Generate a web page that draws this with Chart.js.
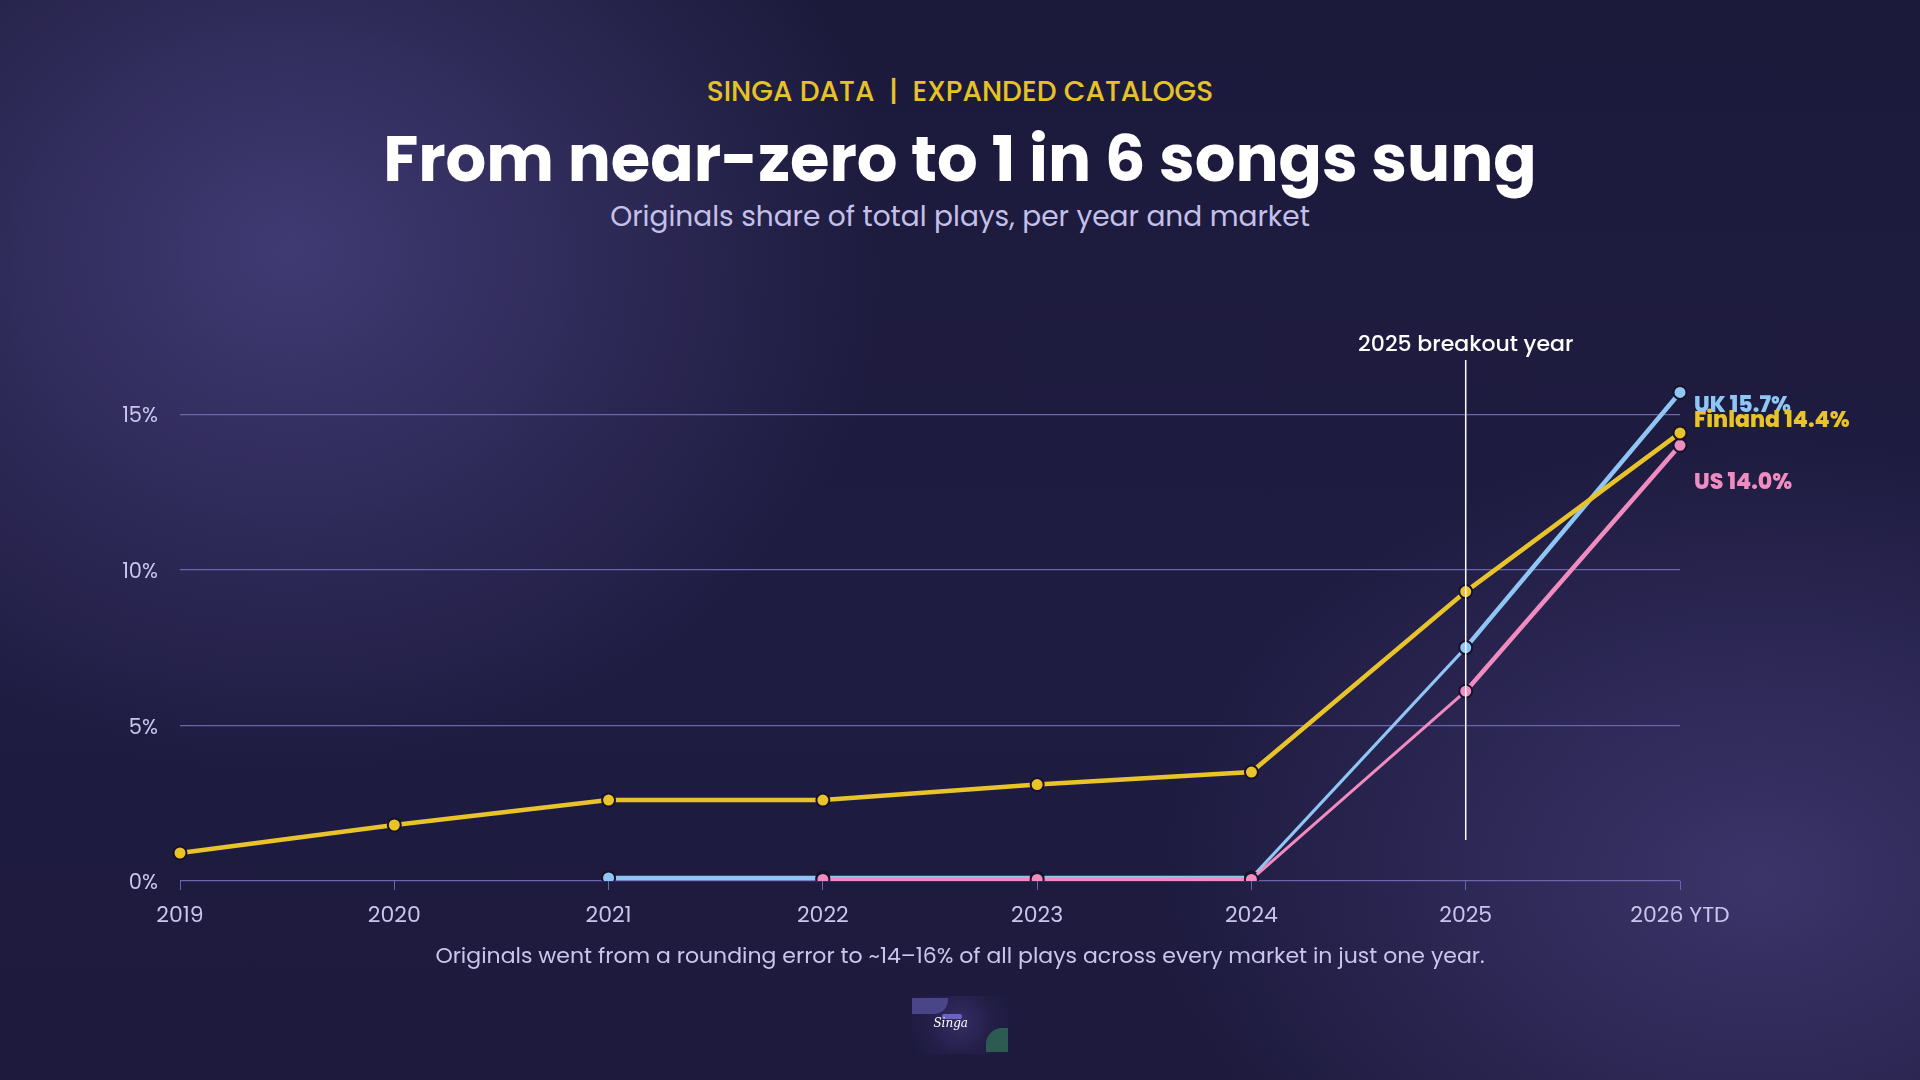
<!DOCTYPE html>
<html lang="en">

<head>
    <meta charset="UTF-8">
    <title>Originals share of total plays</title>
    <script src="https://cdn.jsdelivr.net/npm/chart.js"></script>
    <style>
        * {
            margin: 0;
            padding: 0;
            box-sizing: border-box;
        }

        body {
            width: 1920px;
            height: 1080px;
            overflow: hidden;
            position: relative;
            font-family: 'Poppins', 'Inter', sans-serif;
            background:
                radial-gradient(ellipse 600px 520px at 290px 250px, rgba(66, 60, 118, 0.95), rgba(66, 60, 118, 0) 100%),
                radial-gradient(ellipse 600px 440px at 1760px 880px, rgba(62, 55, 110, 0.9), rgba(62, 55, 110, 0) 100%),
                linear-gradient(180deg, #1c1a3b 0%, #1f1c42 60%, #1d1a3d 100%);
        }

        .kicker {
            position: absolute;
            top: 71px;
            width: 100%;
            text-align: center;
            color: #e6c229;
            font-size: 28px;
            font-weight: 500;
        }

        .title {
            position: absolute;
            top: 111px;
            width: 100%;
            text-align: center;
            color: #ffffff;
            font-size: 64px;
            font-weight: 700;
        }

        .subtitle {
            position: absolute;
            top: 196px;
            width: 100%;
            text-align: center;
            color: #c4c0ea;
            font-size: 28px;
            font-weight: 400;
        }

        .note {
            position: absolute;
            top: 939px;
            width: 100%;
            text-align: center;
            color: #c9c5ec;
            font-size: 22px;
        }

        #chart {
            position: absolute;
            left: 0;
            top: 0;
        }

        /* small logo card */
        .logo {
            position: absolute;
            left: 912px;
            top: 996px;
            width: 96px;
            height: 58px;
            background: radial-gradient(circle at 50% 45%, #342d66 0%, #231f48 55%, rgba(30, 27, 62, 0) 100%);
        }

        .logo .blob1 {
            position: absolute;
            left: 0;
            top: 2px;
            width: 36px;
            height: 16px;
            background: #4a4488;
            border-radius: 0 0 14px 0;
        }

        .logo .blob2 {
            position: absolute;
            right: 0;
            bottom: 2px;
            width: 22px;
            height: 24px;
            background: #2d5b51;
            border-radius: 16px 0 0 0;
        }

        .logo .badge {
            position: absolute;
            left: 30px;
            top: 18px;
            width: 20px;
            height: 5px;
            background: #6b62c4;
            border-radius: 2px;
        }

        .logo .name {
            position: absolute;
            left: 0;
            top: 20px;
            width: 56px;
            text-align: right;
            color: #ffffff;
            font-family: 'DejaVu Serif', serif;
            font-style: italic;
            font-size: 12px;
        }
    </style>
</head>

<body>
    <div class="kicker">SINGA DATA &nbsp;|&nbsp; EXPANDED CATALOGS</div>
    <div class="title">From near-zero to 1 in 6 songs sung</div>
    <div class="subtitle">Originals share of total plays, per year and market</div>

    <canvas id="chart" width="1920" height="1080"></canvas>

    <div class="note">Originals went from a rounding error to ~14–16% of all plays across every market in just one year.</div>

    <div class="logo">
        <div class="blob1"></div>
        <div class="blob2"></div>
        <div class="badge"></div>
        <div class="name">Singa</div>
    </div>

    <script>
        // data
        const years = ['2019', '2020', '2021', '2022', '2023', '2024', '2025', '2026 YTD'];
        const finland = [0.9, 1.8, 2.6, 2.6, 3.1, 3.5, 9.3, 14.4];
        const uk = [null, null, 0.1, 0.1, 0.1, 0.1, 7.5, 15.7];
        const us = [null, null, null, 0.05, 0.05, 0.05, 6.1, 14.0];
        const yTicks = [0, 5, 10, 15];
        const breakoutYear = '2025';
        const breakoutLabel = '2025 breakout year';

        const YELLOW = '#e8c32a';
        const BLUE = '#8fc6f5';
        const PINK = '#f08cbf';
        const GRID = '#6b65ac';
        const TICK_TEXT = '#c9c5ec';

        // end-of-line labels (name, series, colour, nudge in px so they don't collide)
        const endLabels = [
            { name: 'UK', values: uk, color: BLUE, dy: 14 },
            { name: 'Finland', values: finland, color: YELLOW, dy: -11 },
            { name: 'US', values: us, color: PINK, dy: 38 }
        ];

        function series(label, data, color, thinJump) {
            return {
                label: label,
                data: data,
                borderColor: color,
                backgroundColor: color,
                borderWidth: 4.5,
                pointRadius: 6.5,
                pointBorderWidth: 2,
                pointBorderColor: '#16122c',
                pointBackgroundColor: color,
                tension: 0,
                spanGaps: false,
                segment: thinJump ? {
                    borderWidth: ctx => ctx.p0DataIndex === 5 ? 3 : 4.5
                } : undefined
            };
        }

        const annotations = {
            id: 'annotations',
            afterDatasetsDraw(chart) {
                const { ctx, chartArea, scales } = chart;
                const x = scales.x.getPixelForValue(years.indexOf(breakoutYear));
                const top = chartArea.top + 8;
                const bottom = chartArea.bottom - 41;

                ctx.save();
                ctx.strokeStyle = '#ffffff';
                ctx.lineWidth = 1.5;
                ctx.beginPath();
                ctx.moveTo(x, top);
                ctx.lineTo(x, bottom);
                ctx.stroke();

                ctx.fillStyle = '#ffffff';
                ctx.font = '500 22px Poppins, Inter, sans-serif';
                ctx.textAlign = 'center';
                ctx.textBaseline = 'middle';
                ctx.fillText(breakoutLabel, x, top - 15);

                // series labels at the right end
                const last = years.length - 1;
                ctx.textAlign = 'left';
                ctx.font = '800 22px Poppins, Inter, sans-serif';
                endLabels.forEach(l => {
                    const v = l.values[last];
                    const y = scales.y.getPixelForValue(v) + l.dy;
                    ctx.fillStyle = l.color;
                    ctx.fillText(l.name + ' ' + v.toFixed(1) + '%', chartArea.right + 14, y);
                });
                ctx.restore();
            }
        };

        const ctx = document.getElementById('chart').getContext('2d');
        const chart = new Chart(ctx, {
            type: 'line',
            data: {
                labels: years,
                datasets: [
                    series('Finland', finland, YELLOW, false),
                    series('US', us, PINK, true),
                    series('UK', uk, BLUE, true)
                ]
            },
            options: {
                responsive: false,
                animation: false,
                layout: {
                    padding: { left: 120, right: 240, top: 352, bottom: 139 }
                },
                plugins: {
                    legend: { display: false },
                    tooltip: { enabled: false }
                },
                scales: {
                    x: {
                        offset: false,
                        border: { display: false },
                        grid: {
                            drawOnChartArea: false,
                            drawTicks: true,
                            tickLength: 9,
                            tickColor: GRID
                        },
                        ticks: {
                            color: TICK_TEXT,
                            padding: 13,
                            maxRotation: 0,
                            font: { family: 'Poppins, Inter, sans-serif', size: 22 }
                        },
                        afterFit: s => { s.height = 60; }
                    },
                    y: {
                        min: 0,
                        max: 17,
                        border: { display: false },
                        grid: {
                            color: GRID,
                            lineWidth: 1.2,
                            drawTicks: false
                        },
                        afterBuildTicks: s => { s.ticks = yTicks.map(v => ({ value: v })); },
                        ticks: {
                            color: TICK_TEXT,
                            padding: 22,
                            labelOffset: 3,
                            font: { family: 'Poppins, Inter, sans-serif', size: 21 },
                            callback: v => v + '%'
                        },
                        afterFit: s => { s.width = 60; }
                    }
                }
            },
            plugins: [annotations]
        });
    </script>
</body>

</html>
